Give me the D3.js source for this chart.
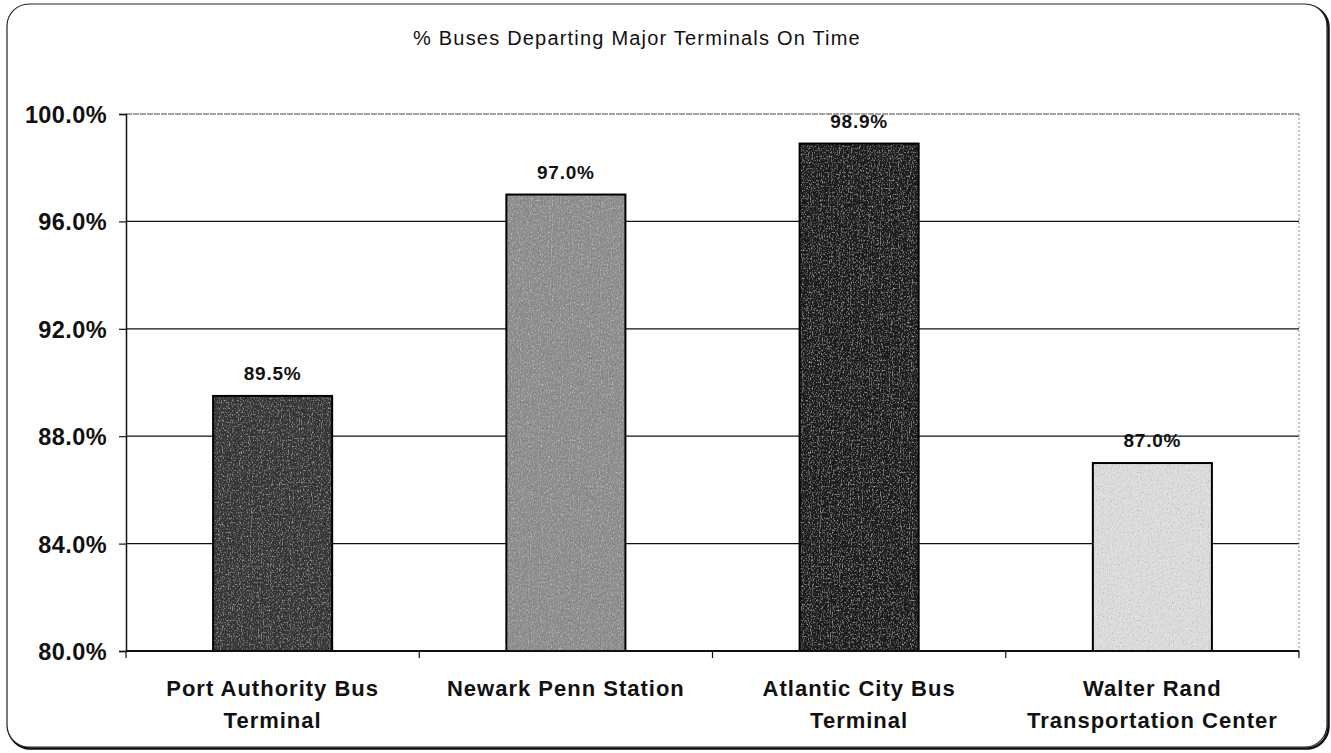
<!DOCTYPE html>
<html>
<head>
<meta charset="utf-8">
<script src="https://cdn.jsdelivr.net/npm/d3@7"></script>
<style>
  body { margin: 0; padding: 0; background: #fff; }
  svg { display: block; font-family: 'Liberation Sans', Arial, sans-serif; }
</style>
</head>
<body>
<svg id="chart" width="1331" height="753"></svg>
<script>
const terminals = [
  ['Port Authority Bus', 'Terminal'],
  ['Newark Penn Station'],
  ['Atlantic City Bus', 'Terminal'],
  ['Walter Rand', 'Transportation Center']
]
const onTime = [89.5, 97.0, 98.9, 87.0]
const barFills = ['#363636', '#8e8e8e', '#1c1c1c', '#dcdcdc']
const yTicks = [80, 84, 88, 92, 96, 100]
const title = '% Buses Departing Major Terminals On Time'

const margin = {top: 114, right: 32, bottom: 102, left: 126}
const width = 1331, height = 753
const plotW = width - margin.left - margin.right
const plotH = height - margin.top - margin.bottom

const svg = d3.select('#chart')

// speckled look of the scanned bars
const grain = svg.append('defs').append('filter')
  .attr('id', 'grain')
  .attr('x', 0).attr('y', 0).attr('width', 1).attr('height', 1)
grain.append('feTurbulence')
  .attr('type', 'fractalNoise')
  .attr('baseFrequency', '0.9 0.5')
  .attr('numOctaves', 2)
  .attr('seed', 3)
  .attr('result', 'noise')
grain.append('feColorMatrix')
  .attr('in', 'noise')
  .attr('type', 'saturate')
  .attr('values', 0)
  .attr('result', 'gray')
grain.append('feBlend')
  .attr('in', 'SourceGraphic')
  .attr('in2', 'gray')
  .attr('mode', 'overlay')
  .attr('result', 'mix')
grain.append('feComposite')
  .attr('in', 'mix')
  .attr('in2', 'SourceGraphic')
  .attr('operator', 'in')

// outer frame
svg.append('rect')
  .attr('x', 8.5).attr('y', 5.5)
  .attr('width', 1320).attr('height', 743)
  .attr('rx', 22).attr('ry', 22)
  .attr('fill', 'none')
  .attr('stroke', '#111')
  .attr('stroke-width', 2.5)
svg.append('rect')
  .attr('x', 7).attr('y', 4)
  .attr('width', 1320).attr('height', 743)
  .attr('rx', 22).attr('ry', 22)
  .attr('fill', '#fff')
  .attr('stroke', '#222')
  .attr('stroke-width', 1.2)

svg.append('text')
  .attr('x', 637).attr('y', 45)
  .attr('text-anchor', 'middle')
  .style('font-size', '20px')
  .style('letter-spacing', '1.2px')
  .attr('fill', '#111')
  .text(title)

const x = d3.scaleBand()
  .domain(d3.range(terminals.length))
  .range([0, plotW])
  .paddingInner(0.594)
  .paddingOuter(0.297)

const y = d3.scaleLinear()
  .domain([80, 100])
  .range([plotH, 0])

const g = svg.append('g')
  .attr('transform', `translate(${margin.left}, ${margin.top})`)

// gridlines
g.append('g')
  .selectAll('line')
  .data(yTicks.slice(1))
  .enter()
  .append('line')
  .attr('x1', 0).attr('x2', plotW)
  .attr('y1', d => y(d)).attr('y2', d => y(d))
  .attr('stroke', d => d === 100 ? '#444' : '#111')
  .attr('stroke-dasharray', d => d === 100 ? '6,1' : null)
  .attr('stroke-width', 1.2)

// right border of plot area (dotted)
g.append('line')
  .attr('x1', plotW).attr('x2', plotW)
  .attr('y1', 0).attr('y2', plotH)
  .attr('stroke', '#888')
  .attr('stroke-dasharray', '2,2')
  .attr('stroke-width', 1)

// bars
g.selectAll('rect.bar')
  .data(onTime)
  .enter()
  .append('rect')
  .attr('class', 'bar')
  .attr('x', (d, i) => x(i))
  .attr('y', d => y(d))
  .attr('width', x.bandwidth())
  .attr('height', d => plotH - y(d))
  .attr('fill', (d, i) => barFills[i])
  .attr('filter', 'url(#grain)')

g.selectAll('rect.edge')
  .data(onTime)
  .enter()
  .append('rect')
  .attr('class', 'edge')
  .attr('x', (d, i) => x(i))
  .attr('y', d => y(d))
  .attr('width', x.bandwidth())
  .attr('height', d => plotH - y(d))
  .attr('fill', 'none')
  .attr('stroke', '#000')
  .attr('stroke-width', 2)

// value labels
g.selectAll('text.val')
  .data(onTime)
  .enter()
  .append('text')
  .attr('class', 'val')
  .attr('x', (d, i) => x(i) + x.bandwidth() / 2)
  .attr('y', d => y(d) - 16)
  .attr('text-anchor', 'middle')
  .style('font-size', '19px')
  .style('font-weight', 'bold')
  .style('letter-spacing', '0.8px')
  .attr('fill', '#111')
  .text(d => d.toFixed(1) + '%')

// y axis
const yAxis = d3.axisLeft(y)
  .tickValues(yTicks)
  .tickSize(7)
  .tickFormat(d => d.toFixed(1) + '%')
const ya = g.append('g').call(yAxis)
ya.select('.domain').attr('stroke', '#111').attr('stroke-width', 1.5)
ya.selectAll('.tick line').attr('stroke', '#111').attr('stroke-width', 1.2)
ya.selectAll('.tick text')
  .attr('x', -19)
  .attr('dy', '0.36em')
  .style('font-family', "'Liberation Sans', Arial, sans-serif")
  .style('font-size', '23.5px')
  .style('font-weight', 'bold')
  .style('letter-spacing', '0.4px')
  .attr('fill', '#111')

// x axis line + category ticks
g.append('line')
  .attr('x1', 0).attr('x2', plotW)
  .attr('y1', plotH).attr('y2', plotH)
  .attr('stroke', '#111')
  .attr('stroke-width', 2)

const bounds = d3.range(terminals.length + 1).map(i => i * x.step())
g.append('g')
  .selectAll('line')
  .data(bounds)
  .enter()
  .append('line')
  .attr('x1', d => d).attr('x2', d => d)
  .attr('y1', plotH).attr('y2', plotH + 7)
  .attr('stroke', '#111')
  .attr('stroke-width', 1.2)

// category labels
const cat = g.append('g')
  .selectAll('text')
  .data(terminals)
  .enter()
  .append('text')
  .attr('text-anchor', 'middle')
  .attr('x', (d, i) => x(i) + x.bandwidth() / 2)
  .attr('y', plotH + 45)
  .style('font-size', '22px')
  .style('font-weight', 'bold')
  .style('letter-spacing', '1px')
  .attr('fill', '#111')

cat.selectAll('tspan')
  .data(d => d)
  .enter()
  .append('tspan')
  .attr('x', function () { return this.parentNode.getAttribute('x') })
  .attr('dy', (d, i) => i === 0 ? 0 : 32)
  .text(d => d)
</script>
</body>
</html>
